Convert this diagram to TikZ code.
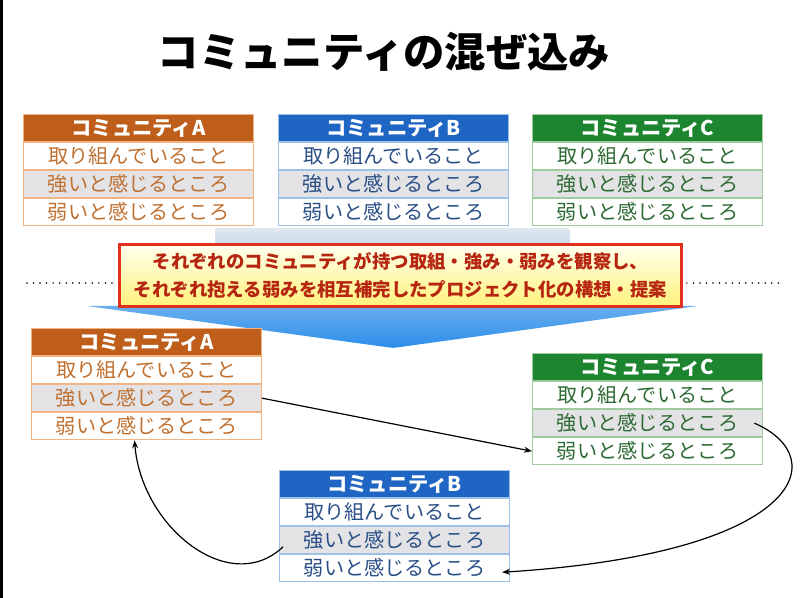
\documentclass[tikz,border=0pt]{standalone}
\usepackage{fontspec}
\setmainfont{Noto Sans CJK JP}
\usetikzlibrary{arrows.meta}
\definecolor{oH}{HTML}{BF5E1A}
\definecolor{oT}{HTML}{C0702F}
\definecolor{oB}{HTML}{F2B482}
\definecolor{bH}{HTML}{1F65C4}
\definecolor{bT}{HTML}{2A4F86}
\definecolor{bB}{HTML}{9CC1E6}
\definecolor{gH}{HTML}{1D842F}
\definecolor{gT}{HTML}{2E6A33}
\definecolor{gB}{HTML}{9FCB9F}
\definecolor{grayrow}{HTML}{E3E3E6}
\definecolor{redframe}{HTML}{E2301E}
\definecolor{redtext}{HTML}{B5250F}
\definecolor{shafttop}{HTML}{E1E8EF}
\definecolor{headblue}{HTML}{2A8EEC}
\definecolor{banTop}{HTML}{FFFFF0}
\definecolor{banBot}{HTML}{FFF27A}
\tikzset{
  hdr/.style={minimum width=172.5pt, minimum height=20.25pt, inner sep=0pt,
    font=\fontsize{15.2}{16}\selectfont\bfseries, text=white},
  rowc/.style={minimum width=172.5pt, minimum height=20.25pt, inner sep=0pt,
    font=\fontsize{15.1}{16}\selectfont, line width=0.8pt},
  link/.style={line width=0.9pt, -{Stealth[length=6pt,width=4.5pt]}},
  banner/.style={draw=redframe, line width=2.4pt, top color=banTop, bottom color=banBot,
    minimum width=421pt, minimum height=47pt, inner sep=0pt, align=center,
    text=redtext, font=\fontsize{13.8}{21}\selectfont\bfseries},
}
\newcommand\commtab[5]{%
  \node[hdr, fill=#5H, draw=#5B, line width=0.8pt, anchor=north west] (#1h) at (#2,#3) {コミュニティ#4};
  \node[rowc, text=#5T, draw=#5B, fill=white, anchor=north] (#1r1) at (#1h.south) {取り組んでいること};
  \node[rowc, text=#5T, draw=#5B, fill=grayrow, anchor=north] (#1r2) at (#1r1.south) {強いと感じるところ};
  \node[rowc, text=#5T, draw=#5B, fill=white, anchor=north] (#1r3) at (#1r2.south) {弱いと感じるところ};
}
\begin{document}
\begin{tikzpicture}[x=0.75pt,y=-0.75pt]
\fill[white] (0,0) rectangle (800,598);
\useasboundingbox (0,0) rectangle (800,598);
\fill[black] (0,0) rectangle (2.5,598);
% title
\node[font=\fontsize{31}{36}\selectfont\bfseries] (title) at (384,52) {コミュニティの混ぜ込み};
% top tables
\commtab{tA}{23}{114}{A}{o}
\commtab{tB}{278}{114}{B}{b}
\commtab{tC}{532}{114}{C}{g}
% dotted separator
\draw[line width=1.3pt, line cap=round, dash pattern=on 0pt off 4.9pt] (27,283) -- (780,283);
% big down arrow
\shade[top color=shafttop, bottom color=headblue, rounded corners=2pt]
  (215,228) -- (570,228) -- (570,306) -- (698,306) -- (393,348) -- (87,306) -- (215,306) -- cycle;
% banner
\node[banner] (msg) at (400.5,275.5) {それぞれのコミュニティが持つ取組・強み・弱みを観察し、\\それぞれ抱える弱みを相互補完したプロジェクト化の構想・提案};
% bottom tables
\commtab{bA}{31}{328}{A}{o}
\commtab{bC}{532}{353}{C}{g}
\commtab{bB}{279}{470}{B}{b}
% connectors
\draw[link] (bAr2.east) -- (bCr3.west);
\draw[link] ([xshift=-6.5pt]bCr2.east) .. controls +(60pt,-26pt) and +(225pt,14pt) .. ([xshift=-6pt,yshift=-3pt]bBr3.east);
\draw[link] ([xshift=3pt,yshift=-5pt]bBr2.west) .. controls +(-40pt,-38pt) and +(5pt,-65pt) .. ([xshift=-9pt]bAr3.south);
\end{tikzpicture}
\end{document}
